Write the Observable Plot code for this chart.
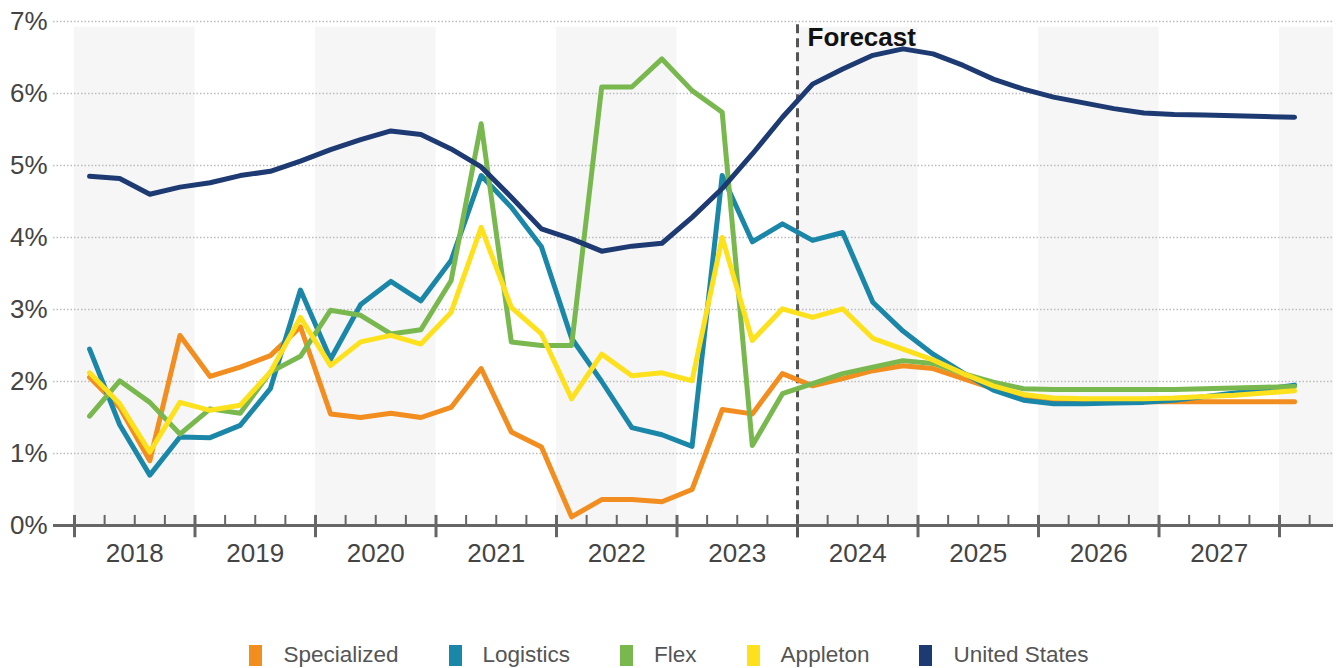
<!DOCTYPE html>
<html>
<head>
<meta charset="utf-8">
<script src="https://cdn.jsdelivr.net/npm/d3@7"></script>
<script src="https://cdn.jsdelivr.net/npm/@observablehq/plot@0.6"></script>
<style>
  body { margin: 0; background: #fff; font-family: "Liberation Sans", Arial, sans-serif; }
  #chart { width: 1338px; }
  #legend {
    width: 1338px; display: flex; justify-content: center; align-items: center;
    gap: 50px; margin-top: 62px; font-size: 22.5px; color: #555;
  }
  .item { display: flex; align-items: center; gap: 21px; }
  .swatch { width: 13px; height: 21px; display: inline-block; }
</style>
</head>
<body>
<div id="chart"></div>
<div id="legend"></div>
<script>
// Quarterly vacancy-style rates (%), 2018 Q1 – 2028 Q1; forecast from 2024.
const periods = [
  "2018 Q1","2018 Q2","2018 Q3","2018 Q4",
  "2019 Q1","2019 Q2","2019 Q3","2019 Q4",
  "2020 Q1","2020 Q2","2020 Q3","2020 Q4",
  "2021 Q1","2021 Q2","2021 Q3","2021 Q4",
  "2022 Q1","2022 Q2","2022 Q3","2022 Q4",
  "2023 Q1","2023 Q2","2023 Q3","2023 Q4",
  "2024 Q1","2024 Q2","2024 Q3","2024 Q4",
  "2025 Q1","2025 Q2","2025 Q3","2025 Q4",
  "2026 Q1","2026 Q2","2026 Q3","2026 Q4",
  "2027 Q1","2027 Q2","2027 Q3","2027 Q4",
  "2028 Q1"
];

const specialized = [2.06,1.64,0.90,2.64, 2.07,2.20,2.36,2.76, 1.55,1.50,1.56,1.50, 1.64,2.18,1.30,1.09,
  0.12,0.36,0.36,0.33, 0.50,1.61,1.55,2.11, 1.94,2.04,2.15,2.22, 2.18,2.04,1.90,1.78,
  1.73,1.72,1.72,1.72, 1.72,1.72,1.72,1.72, 1.72];
const logistics = [2.45,1.40,0.70,1.23, 1.22,1.39,1.90,3.27, 2.31,3.07,3.39,3.12, 3.68,4.86,4.42,3.87,
  2.60,2.00,1.36,1.26, 1.10,4.86,3.94,4.19, 3.96,4.07,3.10,2.70, 2.38,2.12,1.88,1.74,
  1.69,1.69,1.70,1.71, 1.74,1.79,1.84,1.89, 1.95];
const flex = [1.52,2.01,1.71,1.27, 1.62,1.56,2.13,2.35, 2.99,2.92,2.66,2.72, 3.40,5.58,2.55,2.50,
  2.50,6.09,6.09,6.48, 6.04,5.74,1.11,1.83, 1.97,2.11,2.20,2.29, 2.25,2.11,1.99,1.90,
  1.89,1.89,1.89,1.89, 1.89,1.90,1.91,1.92, 1.93];
const appleton = [2.12,1.69,1.02,1.71, 1.60,1.67,2.13,2.89, 2.22,2.55,2.64,2.52, 2.96,4.14,3.03,2.66,
  1.76,2.38,2.08,2.12, 2.01,4.00,2.57,3.01, 2.89,3.01,2.60,2.45, 2.30,2.11,1.94,1.82,
  1.77,1.76,1.76,1.76, 1.77,1.79,1.81,1.84, 1.87];
const unitedStates = [4.85,4.82,4.60,4.70, 4.76,4.86,4.92,5.06, 5.22,5.36,5.48,5.43, 5.23,4.98,4.56,4.12,
  3.98,3.81,3.88,3.92, 4.28,4.68,5.16,5.67, 6.13,6.34,6.53,6.62, 6.55,6.39,6.20,6.06,
  5.95,5.87,5.79,5.73, 5.71,5.70,5.69,5.68, 5.67];

const seriesNames  = ["Specialized", "Logistics", "Flex", "Appleton", "United States"];
const seriesValues = [specialized, logistics, flex, appleton, unitedStates];
const seriesColors = ["#f28d1f", "#1b87a8", "#79b84f", "#fde11c", "#1d3a72"];

const yearLabels  = [2018, 2019, 2020, 2021, 2022, 2023, 2024, 2025, 2026, 2027];
const axisYears   = [2018, 2019, 2020, 2021, 2022, 2023, 2024, 2025, 2026, 2027, 2028];
const shadedYears = [2018, 2020, 2022, 2024, 2026, 2028];
const yTicks      = [0, 1, 2, 3, 4, 5, 6, 7];
const gridTicks   = [1, 2, 3, 4, 5, 6, 7];
const forecastStart = 2024;
const forecastLabel = "Forecast";

// Horizontal extent of the frame (in years); the left part holds the gridline stubs.
const xStart = 2017.8257, xEnd = 2028.448;

// "2019 Q3" -> middle of that quarter on a continuous year scale
const periodX = p => {
  const [yr, q] = p.split(" Q").map(Number);
  return yr + (q - 0.5) / 4;
};

const rows = seriesNames.flatMap((name, s) =>
  periods.map((p, i) => ({series: name, x: periodX(p), value: seriesValues[s][i]}))
);

const quarterTicks = axisYears.flatMap(y => [y + 0.25, y + 0.5, y + 0.75]).filter(v => v < xEnd);

const chart = Plot.plot({
  width: 1338,
  height: 580,
  marginLeft: 53,
  marginRight: 5,
  marginTop: 21,
  marginBottom: 55,
  x: {domain: [xStart, xEnd], axis: null},
  y: {domain: [0, 7], axis: null},
  color: {domain: seriesNames, range: seriesColors},
  style: {fontFamily: "'Liberation Sans', Arial, sans-serif", background: "#fff", overflow: "visible"},
  marks: [
    // alternating year bands
    Plot.rect(shadedYears, {x1: d => d, x2: d => Math.min(d + 1, xEnd), y1: 0, y2: 6.92, fill: "#f6f6f6"}),
    // dotted gridlines
    Plot.ruleY(gridTicks, {stroke: "#bcbcbc", strokeWidth: 1.3, strokeDasharray: "1.5,2"}),
    // y labels
    Plot.text(yTicks, {x: xStart, y: d => d, text: d => d + "%", textAnchor: "end", dx: -6,
      fontSize: 26, fill: "#444"}),
    // baseline axis with year and quarter ticks
    Plot.ruleY([0], {stroke: "#666", strokeWidth: 3}),
    Plot.ruleX(axisYears, {y1: -0.17, y2: 0.14, stroke: "#666", strokeWidth: 3}),
    Plot.ruleX(quarterTicks, {y1: 0, y2: 0.14, stroke: "#666", strokeWidth: 2}),
    Plot.text(yearLabels, {x: d => d + 0.5, y: 0, dy: 28, text: d => String(d), fontSize: 26, fill: "#444"}),
    // forecast divider
    Plot.ruleX([forecastStart], {y1: -0.17, y2: 7, stroke: "#555", strokeWidth: 3, strokeDasharray: "9,5"}),
    Plot.text([forecastLabel], {x: forecastStart, y: 7, text: d => d, textAnchor: "start", dx: 10, dy: 16,
      fontSize: 26, fontWeight: "bold", fill: "#111"}),
    // series lines
    Plot.line(rows, {x: "x", y: "value", z: "series", stroke: "series", strokeWidth: 5,
      strokeLinejoin: "round", strokeLinecap: "round"})
  ]
});
document.getElementById("chart").append(chart);

// legend
const legend = document.getElementById("legend");
seriesNames.forEach((name, i) => {
  const item = document.createElement("div");
  item.className = "item";
  const sw = document.createElement("span");
  sw.className = "swatch";
  sw.style.background = seriesColors[i];
  const label = document.createElement("span");
  label.textContent = name;
  item.append(sw, label);
  legend.append(item);
});
</script>
</body>
</html>
